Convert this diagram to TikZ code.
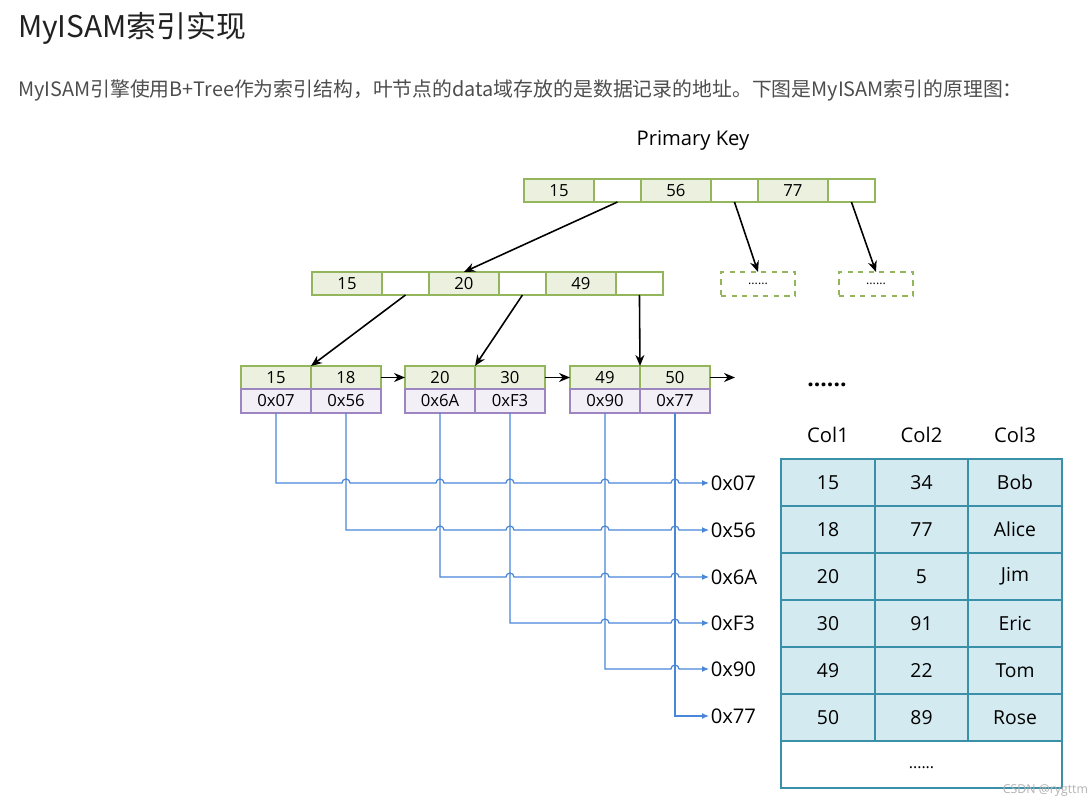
\documentclass[tikz,border=0pt]{standalone}
\usepackage{fontspec}
\setmainfont{Open Sans}
\newfontfamily\cjk{Noto Sans CJK SC}
\usetikzlibrary{arrows.meta,positioning,calc}
\definecolor{keygreen}{HTML}{93B65C}
\definecolor{keyfill}{HTML}{EBF1DE}
\definecolor{addrpurple}{HTML}{9C85C0}
\definecolor{addrfill}{HTML}{F2EFF7}
\definecolor{linkblue}{HTML}{4A86D8}
\definecolor{tabline}{HTML}{3A90A8}
\definecolor{tabfill}{HTML}{D3EAF0}
\definecolor{bodytext}{HTML}{4D4D4D}

\begin{document}
\begin{tikzpicture}[x=0.02cm, y=-0.02cm,
    every node/.style={inner sep=0pt, outer sep=0pt, font=\fontsize{9.5}{11}\selectfont},
    keycell/.style={draw=keygreen, fill=keyfill, line width=1pt, minimum width=1.4cm, minimum height=0.46cm},
    ptrcell/.style={keycell, fill=white, minimum width=0.94cm},
    addrcell/.style={draw=addrpurple, fill=addrfill, line width=1pt, minimum width=1.4cm, minimum height=0.48cm},
    morebox/.style={draw=keygreen, dashed, line width=1pt, minimum width=1.48cm, minimum height=0.48cm, font=\fontsize{7}{8}\selectfont},
    rowcell/.style={draw=tabline, fill=tabfill, line width=1.2pt, minimum width=1.87cm, minimum height=0.94cm, font=\fontsize{11}{13}\selectfont},
    treearrow/.style={-{Stealth[length=2.2mm,width=1.8mm]}, line width=0.9pt},
    addrline/.style={draw=linkblue, line width=0.7pt, -{Latex[length=1.4mm,width=1.2mm]}},
    hexlabel/.style={anchor=west, inner sep=1pt, font=\fontsize{11.5}{13}\selectfont}]
    \useasboundingbox (0,0) rectangle (1092,807);

    % heading
    \node[anchor=west, text=black!87, font=\cjk\fontsize{17}{20}\selectfont] (title) at (18,28) {MyISAM索引实现};
    \node[anchor=west, text=bodytext, font=\cjk\fontsize{11.3}{13}\selectfont] (intro) at (18,90) {MyISAM引擎使用B+Tree作为索引结构，叶节点的data域存放的是数据记录的地址。下图是MyISAM索引的原理图：};
    \node[font=\fontsize{11.5}{13}\selectfont] (pk) at (693,141) {Primary Key};

    % root
    \node[keycell] (r1) at (559,190.5) {15};
    \node[ptrcell, right=0pt of r1] (r2) {};
    \node[keycell, right=0pt of r2] (r3) {56};
    \node[ptrcell, right=0pt of r3] (r4) {};
    \node[keycell, right=0pt of r4] (r5) {77};
    \node[ptrcell, right=0pt of r5] (r6) {};

    % second level
    \node[keycell] (m1) at (347,283.5) {15};
    \node[ptrcell, right=0pt of m1] (m2) {};
    \node[keycell, right=0pt of m2] (m3) {20};
    \node[ptrcell, right=0pt of m3] (m4) {};
    \node[keycell, right=0pt of m4] (m5) {49};
    \node[ptrcell, right=0pt of m5] (m6) {};
    \node[morebox] (d1) at (758,284) {......};
    \node[morebox] (d2) at (876,284) {......};

    % leaves
    \node[keycell] (l11) at (276,377.5) {15};
    \node[keycell, right=0pt of l11] (l12) {18};
    \node[keycell] (l21) at (440,377.5) {20};
    \node[keycell, right=0pt of l21] (l22) {30};
    \node[keycell] (l31) at (605,377.5) {49};
    \node[keycell, right=0pt of l31] (l32) {50};
    \node[addrcell, below=0pt of l11] (a1) {0x07};
    \node[addrcell, below=0pt of l12] (a2) {0x56};
    \node[addrcell, below=0pt of l21] (a3) {0x6A};
    \node[addrcell, below=0pt of l22] (a4) {0xF3};
    \node[addrcell, below=0pt of l31] (a5) {0x90};
    \node[addrcell, below=0pt of l32] (a6) {0x77};
    \coordinate (chainend) at (735,377.5);
    \node[font=\fontsize{13}{15}\selectfont\bfseries] (leafmore) at (827,385) {......};

    \draw[treearrow] (r2.south) -- (m3.north);
    \draw[treearrow] (r4.south) -- (d1.north);
    \draw[treearrow] (r6.south) -- (d2.north);
    \draw[treearrow] (m2.south) -- (l11.north east);
    \draw[treearrow] (m4.south) -- (l21.north east);
    \draw[treearrow] (m6.south) -- (l31.north east);
    \draw[treearrow] (l12.east) -- (l21.west);
    \draw[treearrow] (l22.east) -- (l31.west);
    \draw[treearrow] (l32.east) -- (chainend);

    % addresses
    \node[hexlabel] (h1) at (709,483) {0x07};
    \node[hexlabel] (h2) at (709,530) {0x56};
    \node[hexlabel] (h3) at (709,577) {0x6A};
    \node[hexlabel] (h4) at (709,623) {0xF3};
    \node[hexlabel] (h5) at (709,669) {0x90};
    \node[hexlabel] (h6) at (709,716) {0x77};
    \foreach \i in {1,...,5} {
        \pgfmathtruncatemacro\nxt{\i+1}
        \draw[addrline] (a\i.south) -- (a\i.south |- h\i.west)
            \foreach \j in {\nxt,...,6} { -- ($(a\j.south |- h\i.west)+(-4,0)$) arc[start angle=180, end angle=360, radius=4] }
            -- (h\i.west);
    }
    \draw[addrline] (a6.south) |- (h6.west);

    % table
    \node[font=\fontsize{11.5}{13}\selectfont] (c1) at (828,435) {Col1};
    \node[font=\fontsize{11.5}{13}\selectfont] (c2) at (921.5,435) {Col2};
    \node[font=\fontsize{11.5}{13}\selectfont] (c3) at (1015,435) {Col3};
    \foreach \a/\b/\c [count=\i] in {15/34/Bob, 18/77/Alice, 20/5/Jim, 30/91/Eric, 49/22/Tom, 50/89/Rose} {
        \node[rowcell] (t\i1) at (828,435.5+47*\i) {\a};
        \node[rowcell] (t\i2) at (921.5,435.5+47*\i) {\b};
        \node[rowcell] (t\i3) at (1015,435.5+47*\i) {\c};
    }
    \node[rowcell, fill=white, minimum width=5.62cm, font=\fontsize{9}{10}\selectfont] (tmore) at (921.5,764.5) {\raisebox{-2pt}[0pt][0pt]{......}};

    \node[anchor=east, text=gray!60, font=\fontsize{7}{8}\selectfont] (mark) at (1088,791) {CSDN @rygttm};
\end{tikzpicture}
\end{document}
